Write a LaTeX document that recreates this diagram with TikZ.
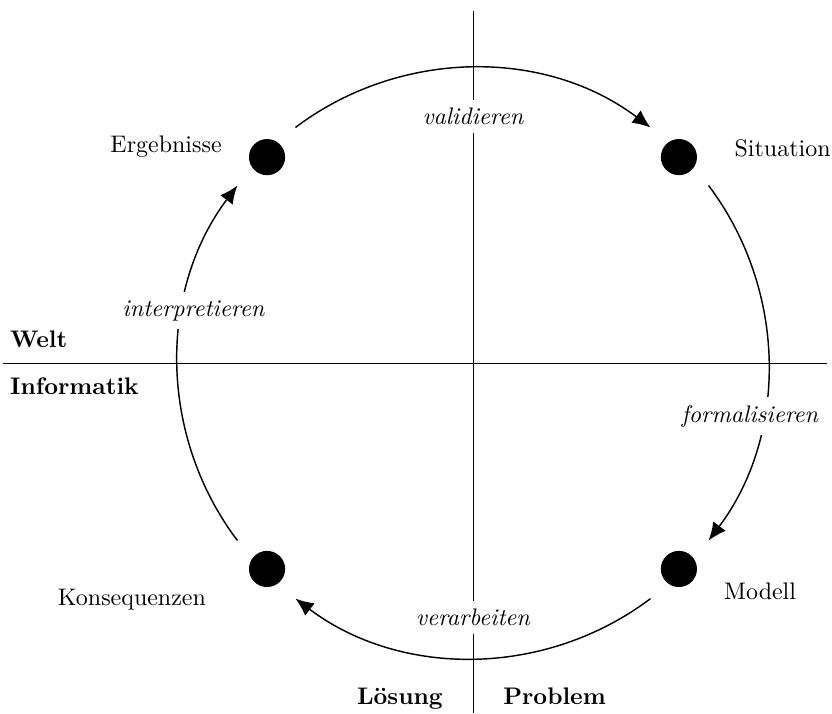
\documentclass[tikz,border=0pt]{standalone}
\usetikzlibrary{arrows.meta}

\begin{document}
\begin{tikzpicture}[
  dot/.style={circle, fill=black, inner sep=0pt, minimum size=5.3mm},
  arc/.style={semithick, -{Latex[length=7.5pt,width=6.5pt]}, bend left=37, looseness=0.95},
  verb/.style={fill=white, font=\itshape}
]

\useasboundingbox (-6.935,-5.132) rectangle (5.264,5.323);

%\draw[help lines] (-6,-5) grid (5,5);

%% axes
\coordinate (axTop) at (0,5.16);
\coordinate (axBottom) at (0,-5.132);
\coordinate (axLeft) at (-6.89,0);
\coordinate (axRight) at (5.19,0);
\draw (axTop) -- (axBottom);
\draw (axLeft) -- (axRight);

%% the four states
\node [dot] (erg) at (135:4.27) {};
\node [dot] (sit) at (45:4.27) {};
\node [dot] (mod) at (-45:4.27) {};
\node [dot] (kon) at (-135:4.27) {};

%% arc ends, 8 degrees off each state
\coordinate (ergOut) at (127:4.325);
\coordinate (sitIn) at (53:4.325);
\coordinate (sitOut) at (37:4.325);
\coordinate (modIn) at (-37:4.325);
\coordinate (modOut) at (-53:4.325);
\coordinate (konIn) at (-127:4.325);
\coordinate (konOut) at (-143:4.325);
\coordinate (ergIn) at (143:4.325);

\draw [arc] (ergOut) to (sitIn);
\draw [arc] (sitOut) to (modIn);
\draw [arc] (modOut) to (konIn);
\draw [arc] (konOut) to (ergIn);

%% verbs on the cycle
\node [verb] (validieren) at (0,3.62) {validieren};
\node [verb] (formalisieren) at (4.06,-0.78) {formalisieren};
\node [verb] (verarbeiten) at (0,-3.73) {verarbeiten};
\node [verb] (interpretieren) at (-4.10,0.77) {interpretieren};

%% names of the states
\node [anchor=base] (ergName) at (-4.50,3.09) {Ergebnisse};
\node [anchor=base] (sitName) at (4.54,3.03) {Situation};
\node [anchor=base] (modName) at (4.21,-3.47) {Modell};
\node [anchor=base] (konName) at (-5.00,-3.55) {Konsequenzen};

%% quadrants
\node [anchor=base west] (welt) at (-6.91,0.23) {\textbf{Welt}};
\node [anchor=base west] (informatik) at (-6.91,-0.455) {\textbf{Informatik}};
\node [anchor=base east] (loesung) at (-0.32,-5.01) {\textbf{Lösung}};
\node [anchor=base west] (problem) at (0.32,-5.01) {\textbf{Problem}};

\end{tikzpicture}
\end{document}
